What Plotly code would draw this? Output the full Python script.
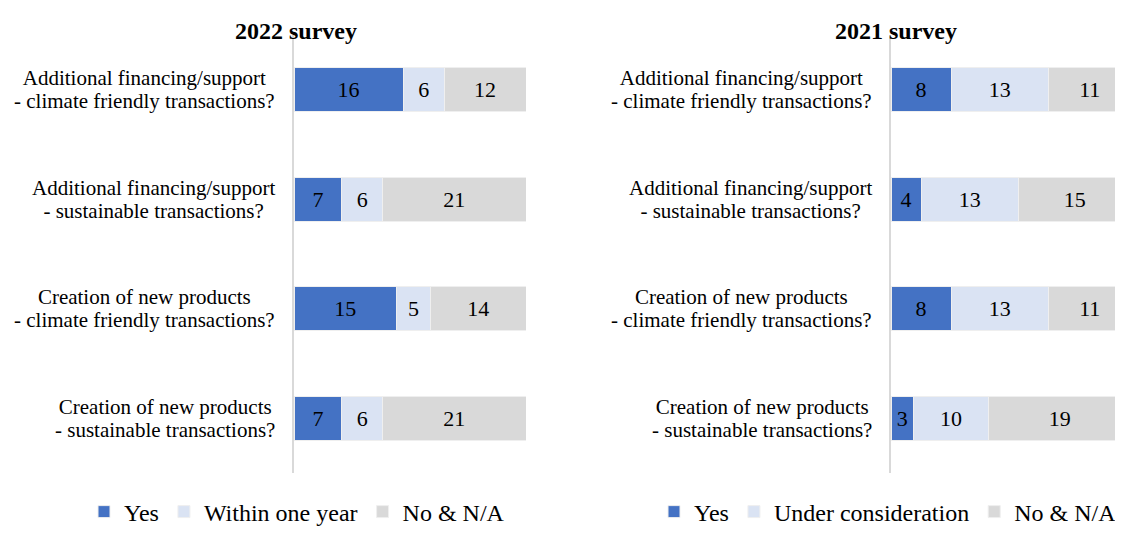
import plotly.graph_objects as go

# ---- data ----
categories = [
    ["Additional financing/support", "- climate friendly transactions?"],
    ["Additional financing/support", "- sustainable transactions?"],
    ["Creation of new products", "- climate friendly transactions?"],
    ["Creation of new products", "- sustainable transactions?"],
]
cat_keys = ["<br>".join(c) for c in categories]

yes_2022 = [16, 7, 15, 7]
within_2022 = [6, 6, 5, 6]
no_2022 = [12, 21, 14, 21]

yes_2021 = [8, 4, 8, 3]
under_2021 = [13, 13, 13, 10]
no_2021 = [11, 15, 11, 19]

titles = ["2022 survey", "2021 survey"]
series_2022 = ["Yes", "Within one year", "No & N/A"]
series_2021 = ["Yes", "Under consideration", "No & N/A"]

# ---- style ----
# the page body has an 8px default margin; size the figure so the page
# does not overflow the 1123x535 window
OFF = 8
W, H = 1123 - 2 * OFF, 535 - 2 * OFF
FONT = "Liberation Serif, Times New Roman, serif"
colors = ["#4472C4", "#DAE3F3", "#D9D9D9"]

def px_x(s):  # screen x -> paper fraction
    return (s - OFF) / W

def px_y(s):  # screen y (from top) -> paper fraction
    return 1 - (s - OFF) / H

left_dom = [px_x(294), px_x(526)]
right_dom = [px_x(891), 1.0]
y_dom = [px_y(473), px_y(35)]
right_max = (1115 - 891) / 7.5

fig = go.Figure()

def add_group(vals_list, names, xa, ya, legend):
    for vals, name, col in zip(vals_list, names, colors):
        fig.add_trace(go.Bar(
            y=cat_keys, x=vals, name=name, orientation="h",
            marker=dict(color=col, line=dict(color="#EFEFEF", width=1)),
            width=0.4,
            text=[str(v) for v in vals], textposition="inside",
            insidetextanchor="middle", constraintext="none",
            textfont=dict(family=FONT, size=22, color="black"),
            xaxis=xa, yaxis=ya, legend=legend, hoverinfo="skip",
        ))

add_group([yes_2022, within_2022, no_2022], series_2022, "x", "y", "legend")
add_group([yes_2021, under_2021, no_2021], series_2021, "x2", "y2", "legend2")

yax_common = dict(
    type="category", categoryorder="array", categoryarray=cat_keys,
    autorange="reversed", showticklabels=False, ticks="",
    showgrid=False, zeroline=False, showline=True,
    linecolor="#D9D9D9", linewidth=1.5, domain=y_dom,
)

legend_common = dict(
    orientation="h", yanchor="middle", y=px_y(512),
    font=dict(family=FONT, size=24, color="black"),
    bgcolor="rgba(0,0,0,0)", traceorder="normal",
)

fig.update_layout(
    width=W, height=H,
    margin=dict(l=0, r=0, t=0, b=0, autoexpand=False),
    paper_bgcolor="white", plot_bgcolor="white",
    barmode="stack", bargap=0.6,
    font=dict(family=FONT, size=21, color="black"),
    showlegend=True,
    xaxis=dict(domain=left_dom, range=[0, 34], visible=False, anchor="y"),
    yaxis=dict(anchor="x", **yax_common),
    xaxis2=dict(domain=right_dom, range=[0, right_max], visible=False, anchor="y2"),
    yaxis2=dict(anchor="x2", **yax_common),
    legend=dict(x=px_x(297), xanchor="center", **legend_common),
    legend2=dict(x=px_x(1122), xanchor="right", **legend_common),
)

annotations = []
# titles
for t, cx in zip(titles, [296, 896]):
    annotations.append(dict(
        text="<b>%s</b>" % t, x=px_x(cx), y=px_y(31), xref="paper", yref="paper",
        xanchor="center", yanchor="middle", showarrow=False,
        font=dict(family=FONT, size=24, color="black"),
    ))

# category labels
for ya, axis_x in [("y", 294), ("y2", 891)]:
    for key, lines in zip(cat_keys, categories):
        txt = "<br>".join('<span style="font-size:21px">%s</span>' % l for l in lines)
        annotations.append(dict(
            text=txt, x=px_x(axis_x), xshift=-17, y=key, xref="paper", yref=ya,
            xanchor="right", yanchor="middle", align="center", showarrow=False,
            font=dict(family=FONT, size=18, color="black"),
        ))

fig.update_layout(annotations=annotations)

fig.write_html("out.html")
